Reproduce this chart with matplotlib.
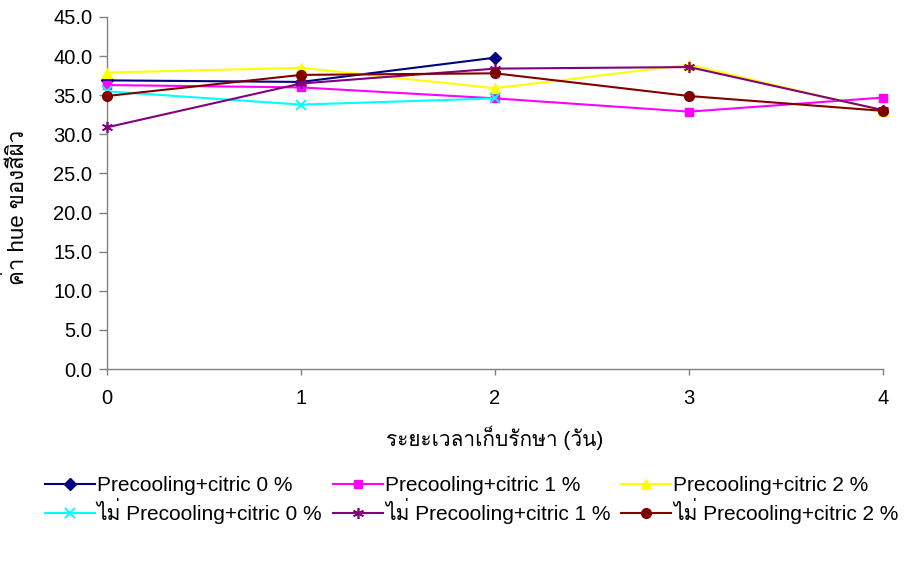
import matplotlib
matplotlib.use("Agg")
import matplotlib.pyplot as plt
from matplotlib.ticker import FormatStrFormatter, MultipleLocator

plt.rcParams["font.family"] = ["Liberation Sans", "Loma"]

days = [0, 1, 2, 3, 4]

# hue values per treatment (two series were only measured up to day 2)
pre_c0 = [36.9, 36.7, 39.8]
pre_c1 = [36.3, 36.0, 34.6, 32.9, 34.7]
pre_c2 = [37.9, 38.5, 35.9, 38.9, 33.0]
nopre_c0 = [35.5, 33.8, 34.6]
nopre_c1 = [30.9, 36.5, 38.4, 38.6, 33.1]
nopre_c2 = [34.9, 37.6, 37.8, 34.9, 33.0]

labels = [
    "Precooling+citric 0 %",
    "Precooling+citric 1 %",
    "Precooling+citric 2 %",
    "ไม่ Precooling+citric 0 %",
    "ไม่ Precooling+citric 1 %",
    "ไม่ Precooling+citric 2 %",
]

ylabel = "ค่า hue ของสีผิว"
xlabel = "ระยะเวลาเก็บรักษา (วัน)"

series = [pre_c0, pre_c1, pre_c2, nopre_c0, nopre_c1, nopre_c2]
styles = [
    dict(color="#000080", marker="D", ms=6),
    dict(color="#FF00FF", marker="s", ms=6),
    dict(color="#FFFF00", marker="^", ms=7.5),
    dict(color="#00FFFF", marker="x", ms=7, mew=1.4),
    dict(color="#800080", marker=(6, 2, 0), ms=8, mew=1.2),
    dict(color="#800000", marker="o", ms=7),
]

fig = plt.figure(figsize=(9.11, 5.61), dpi=100)
ax = fig.add_axes([0.1175, 0.3422, 0.8518, 0.6275])

handles = []
for vals, lab, st in zip(series, labels, styles):
    (h,) = ax.plot(days[:len(vals)], vals, lw=1.5, label=lab,
                   clip_on=False, zorder=3, **st)
    handles.append(h)

ax.set_xlim(0, 4)
ax.set_ylim(0, 45)
ax.xaxis.set_major_locator(MultipleLocator(1))
ax.yaxis.set_major_locator(MultipleLocator(5))
ax.yaxis.set_major_formatter(FormatStrFormatter("%.1f"))

for side in ("top", "right"):
    ax.spines[side].set_visible(False)
for side in ("left", "bottom"):
    ax.spines[side].set_color("#808080")
    ax.spines[side].set_linewidth(1.0)
ax.tick_params(axis="both", direction="out", width=1.0,
               color="#808080", labelsize=14.5)
ax.tick_params(axis="y", length=5.5, pad=5)
ax.tick_params(axis="x", length=4.5, pad=10)

ax.set_xlabel(xlabel, fontsize=15, va="center")
ax.xaxis.set_label_coords(0.5, -0.196)
ax.set_ylabel(ylabel, fontsize=16, va="center", ha="center")
ax.yaxis.set_label_coords(-0.1166, 0.46)

# legend reads row by row: reorder for matplotlib's column-first filling
order = [0, 3, 1, 4, 2, 5]
fig.legend([handles[i] for i in order], [labels[i] for i in order],
           ncol=3, loc="upper left", bbox_to_anchor=(0.049, 0.151),
           frameon=False, fontsize=15, handlelength=2.4,
           handletextpad=0.1, columnspacing=0.5, labelspacing=0.15,
           borderaxespad=0, borderpad=0)

fig.savefig("out.png", dpi=100)
